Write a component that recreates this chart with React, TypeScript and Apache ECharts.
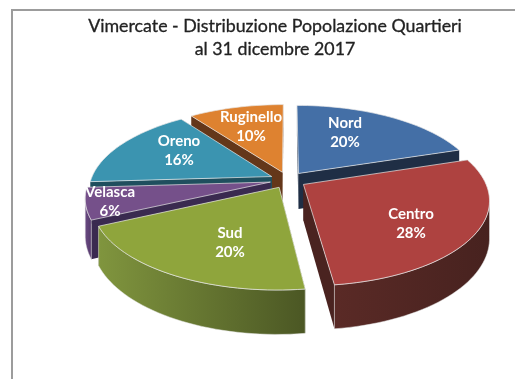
import React, { useEffect, useRef } from "react";
import * as echarts from "echarts";

// --- data ---
const categories = ["Nord", "Centro", "Sud", "Velasca", "Oreno", "Ruginello"];
const shares = [20, 28, 20, 6, 16, 10];
const titleLines = ["Vimercate - Distribuzione Popolazione Quartieri", "al 31 dicembre 2017"];

// --- styling / layout of the drawing ---
const topColors = ["#446FA6", "#AE4240", "#8FA53C", "#75508A", "#3B94B0", "#DE8230"];
const wallColors = [
  ["#25364F", "#1F2E45"],
  ["#5A2A26", "#47221F"],
  ["#80953E", "#4B5724"],
  ["#6A4A82", "#553A6C"],
  ["#245A6C", "#1F4F5E"],
  ["#6E3F1E", "#64371A"],
];
const cutColors = ["#1F2E45", "#4A2320", "#5D6B2C", "#3A2A50", "#1F4F5E", "#64371A"];
const drawRank = [2, 5, 6, 4, 3, 1];
const labelCentres = [
  [345, 131],
  [411, 222],
  [230, 241],
  [110, 200],
  [179, 149],
  [251, 125],
];
const CX = 288;
const CY = 180;
const RX = 181;
const RY = 82;
const PERSPECTIVE = 0.174;
const EXPLODE = 0.1;
const DEPTH = 36;
const WALL_FROM = (100 / 180) * Math.PI;
const WALL_TO = (260 / 180) * Math.PI;

const total = shares.reduce((a, b) => a + b, 0);

function project(px: number, py: number, lift = 0): number[] {
  const w = 1 + PERSPECTIVE * py;
  return [CX + (RX * px) / w, CY - (RY * py) / w + lift / w];
}

function arc(ox: number, oy: number, from: number, to: number, lift: number): number[][] {
  const steps = Math.max(4, Math.ceil(((to - from) * 180) / Math.PI / 2));
  const pts: number[][] = [];
  for (let s = 0; s <= steps; s++) {
    const t = from + ((to - from) * s) / steps;
    pts.push(project(ox + Math.sin(t), oy + Math.cos(t), lift));
  }
  return pts;
}

function renderSlice(params: any, api: any) {
  const i = params.dataIndex;
  let before = 0;
  for (let k = 0; k < i; k++) before += shares[k];
  const value = api.value(0);
  const start = (before / total) * Math.PI * 2;
  const end = ((before + value) / total) * Math.PI * 2;
  const mid = (start + end) / 2;
  const ox = EXPLODE * Math.sin(mid);
  const oy = EXPLODE * Math.cos(mid);
  const arcTop = arc(ox, oy, start, end, 0);
  const arcBottom = arc(ox, oy, start, end, DEPTH);
  const apexTop = project(ox, oy);
  const apexBottom = project(ox, oy, DEPTH);
  const rank = drawRank[i] * 10;
  const poly = (points: number[][], style: any, z2: number) => ({
    type: "polygon",
    z2,
    shape: { points },
    style,
    silent: true,
  });
  const last = arcTop.length - 1;
  const [cx, cy] = labelCentres[i];
  const children: any[] = [
    poly([apexTop, arcTop[0], arcBottom[0], apexBottom], { fill: cutColors[i] }, rank),
    poly([apexTop, arcTop[last], arcBottom[last], apexBottom], { fill: cutColors[i] }, rank),
  ];
  const wallStart = Math.max(start, WALL_FROM);
  const wallEnd = Math.min(end, WALL_TO);
  if (wallStart < wallEnd) {
    children.push(
      poly(
        [...arc(ox, oy, wallStart, wallEnd, 0), ...arc(ox, oy, wallStart, wallEnd, DEPTH).reverse()],
        {
          fill: new echarts.graphic.LinearGradient(0, 0, 1, 0, [
            { offset: 0, color: wallColors[i][0] },
            { offset: 1, color: wallColors[i][1] },
          ]),
          stroke: "#E4E4E4",
          lineWidth: 0.5,
        },
        rank + 1
      )
    );
  }
  children.push(
    poly([apexTop, ...arcTop], { fill: topColors[i], stroke: "#E8E8E8", lineWidth: 0.7 }, rank + 2),
    {
      type: "text",
      z2: 200,
      silent: true,
      style: {
        x: cx,
        y: cy,
        text: `${categories[i]}\n${value}%`,
        fill: "#FFFFFF",
        font: "bold 15px Lato",
        lineHeight: 19,
        align: "center",
        verticalAlign: "middle",
      },
    }
  );
  return { type: "group", children };
}

export default function App() {
  const ref = useRef<HTMLDivElement>(null);
  useEffect(() => {
    const chart = echarts.init(ref.current!, null, { renderer: "svg" });
    chart.setOption({
      animation: false,
      backgroundColor: "#FFFFFF",
      title: {
        text: titleLines.join("\n"),
        left: 270,
        top: 8,
        textAlign: "center",
        textStyle: {
          fontFamily: "Lato",
          fontWeight: "normal",
          fontSize: 17.8,
          lineHeight: 23,
          color: "#222222",
          textBorderColor: "#222222",
          textBorderWidth: 0.3,
        },
      },
      graphic: [
        {
          type: "polyline",
          shape: { points: [[12, 379], [12, 10], [515, 10]] },
          style: { stroke: "#9C9C9C", lineWidth: 2, fill: "none" },
          silent: true,
        },
      ],
      series: [
        {
          type: "custom",
          coordinateSystem: "none",
          renderItem: renderSlice,
          data: shares.map((v, i) => ({ name: categories[i], value: [v] })),
          silent: true,
        },
      ],
    });
    return () => chart.dispose();
  }, []);
  return (
    <div
      ref={ref}
      style={{ position: "absolute", left: 0, top: 0, width: 515, height: 379, filter: "blur(0.4px)" }}
    />
  );
}
